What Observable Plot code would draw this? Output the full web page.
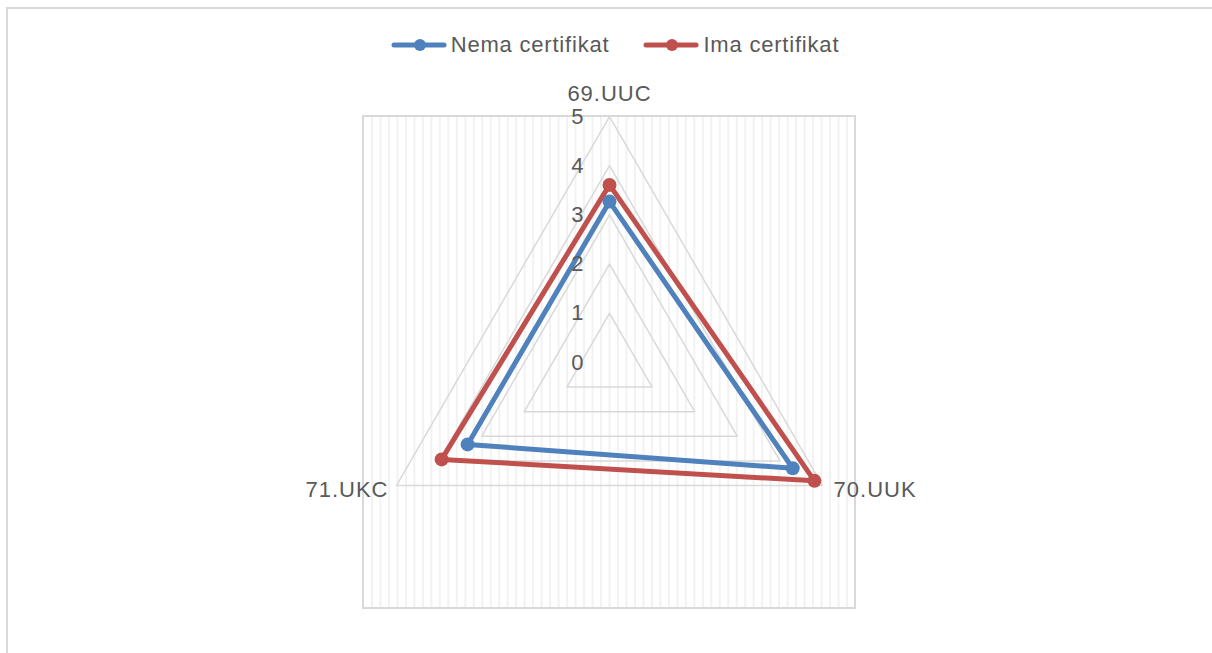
<!DOCTYPE html>
<html>
<head>
<meta charset="utf-8">
<script src="https://cdn.jsdelivr.net/npm/d3@7"></script>
<script src="https://cdn.jsdelivr.net/npm/@observablehq/plot@0.6"></script>
<style>
  html, body { margin: 0; padding: 0; background: #fff; overflow: hidden; width: 1212px; height: 653px; }
  body { position: relative; font-family: "Liberation Sans", Arial, sans-serif; }
  #frame { position: absolute; left: 6px; top: 7px; width: 1400px; height: 800px; border: 2px solid #d9d9d9; box-sizing: border-box; pointer-events: none; }
  #legend { position: relative; height: 70px; padding-top: 20px; padding-left: 18px; box-sizing: border-box; display: flex; justify-content: center; align-items: center; gap: 34px; }
  .item { display: flex; align-items: center; gap: 4px; font-size: 22px; letter-spacing: 0.8px; color: #595959; }
  #chart { position: relative; display: block; }
</style>
</head>
<body>
<div id="frame"></div>
<div id="legend"></div>
<div id="chart"></div>
<script>
// ---- data ----
const categories = ["69.UUC", "70.UUK", "71.UKC"];
const seriesNames = ["Nema certifikat", "Ima certifikat"];
const seriesColors = ["#4f81bd", "#c0504d"];
const nemaValues = [3.27, 4.30, 3.33];
const imaValues = [3.61, 4.81, 3.94];
const tickValues = [0, 1, 2, 3, 4, 5];
const maxValue = 5;

// ---- layout ----
const W = 1212, H = 583;
const cx = 609, cy = 292, R = 49.2; // px per unit

const angleOf = i => Math.PI / 2 - i * 2 * Math.PI / categories.length; // math angle, y up
const pt = (i, v) => [v * Math.cos(angleOf(i)), v * Math.sin(angleOf(i))];

const series = [
  {name: seriesNames[0], color: seriesColors[0], values: nemaValues},
  {name: seriesNames[1], color: seriesColors[1], values: imaValues}
];

// grid triangles
const gridRows = [];
tickValues.filter(t => t > 0).forEach(t => {
  for (let k = 0; k <= categories.length; k++) {
    const [x, y] = pt(k % categories.length, t);
    gridRows.push({level: t, x, y});
  }
});

// series rows
const lineRows = [];
const dotRows = [];
series.forEach(s => {
  s.values.forEach((v, i) => {
    const [x, y] = pt(i, v);
    dotRows.push({name: s.name, color: s.color, x, y});
  });
  for (let k = 0; k <= categories.length; k++) {
    const [x, y] = pt(k % categories.length, s.values[k % categories.length]);
    lineRows.push({name: s.name, color: s.color, x, y});
  }
});

// category label rows
const labelRows = categories.map((c, i) => {
  const [x, y] = pt(i, maxValue);
  return {label: c, x, y, i};
});

// decorative vertical stripes of the plot area
const stripeCount = 29;
const stripes = d3.range(-stripeCount + 1, stripeCount).map(k => k * maxValue / stripeCount);

// ---- legend ----
const legend = document.getElementById("legend");
series.forEach(s => {
  const item = document.createElement("div");
  item.className = "item";
  item.innerHTML = `<svg width="56" height="14"><line x1="3" y1="7" x2="53" y2="7" stroke="${s.color}" stroke-width="5" stroke-linecap="round"/><circle cx="29" cy="7" r="6" fill="${s.color}"/></svg><span>${s.name}</span>`;
  legend.appendChild(item);
});

// ---- chart ----
const chart = Plot.plot({
  width: W,
  height: H,
  margin: 0,
  x: {domain: [-cx / R, (W - cx) / R], axis: null},
  y: {domain: [-(H - cy) / R, cy / R], axis: null},
  style: {fontFamily: "'Liberation Sans', Arial, sans-serif", background: "transparent", overflow: "visible", letterSpacing: "1px"},
  marks: [
    Plot.ruleX(stripes, {x: d => d, y1: -maxValue, y2: maxValue, stroke: "#f2f2f2", strokeWidth: 2}),
    Plot.rect([0], {x1: -maxValue, x2: maxValue, y1: -maxValue, y2: maxValue, fill: "none", stroke: "#d9d9d9", strokeWidth: 2}),
    Plot.line(gridRows, {x: "x", y: "y", z: "level", stroke: "#d9d9d9", strokeWidth: 1.5, curve: "linear"}),
    Plot.line(lineRows, {x: "x", y: "y", z: "name", stroke: "color", strokeWidth: 5, strokeLinejoin: "round", curve: "linear"}),
    Plot.dot(dotRows, {x: "x", y: "y", fill: "color", r: 7}),
    Plot.text(tickValues, {x: 0, y: d => d, text: d => String(d), textAnchor: "end", dx: -25, fill: "#595959", fontSize: 22}),
    Plot.text(labelRows.filter(d => d.i === 0), {x: "x", y: "y", text: "label", dy: -23, fill: "#595959", fontSize: 22}),
    Plot.text(labelRows.filter(d => d.i === 1), {x: "x", y: "y", text: "label", textAnchor: "start", dx: 11, dy: 4, fill: "#595959", fontSize: 22}),
    Plot.text(labelRows.filter(d => d.i === 2), {x: "x", y: "y", text: "label", textAnchor: "end", dx: -8, dy: 4, fill: "#595959", fontSize: 22})
  ]
});
document.getElementById("chart").appendChild(chart);
</script>
</body>
</html>
